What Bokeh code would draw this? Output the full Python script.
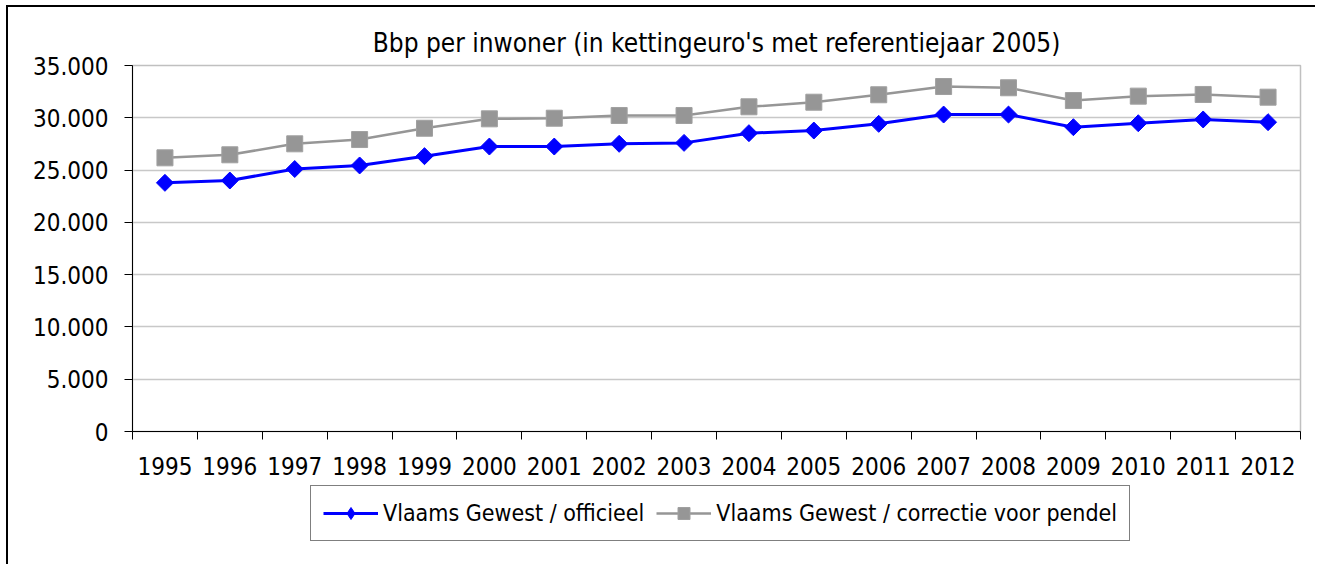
import numpy as np
from bokeh.plotting import figure
from bokeh.layouts import column
from bokeh.models import Range1d, FixedTicker, Legend, LegendItem
from bokeh.embed import file_html
from bokeh.resources import INLINE

years = ["1995", "1996", "1997", "1998", "1999", "2000", "2001", "2002", "2003",
         "2004", "2005", "2006", "2007", "2008", "2009", "2010", "2011", "2012"]
officieel = [23780, 24000, 25100, 25440, 26330, 27250, 27250, 27510, 27600,
             28530, 28780, 29420, 30310, 30310, 29100, 29480, 29840, 29580]
pendel = [26170, 26460, 27510, 27920, 29000, 29900, 29960, 30220, 30220,
          31050, 31490, 32200, 32990, 32870, 31650, 32070, 32230, 31970]
y_ticks = [0, 5000, 10000, 15000, 20000, 25000, 30000, 35000]
y_tick_labels = ["0", "5.000", "10.000", "15.000", "20.000", "25.000", "30.000", "35.000"]
title_text = "Bbp per inwoner (in kettingeuro's met referentiejaar 2005)"
series_names = ["Vlaams Gewest / officieel", "Vlaams Gewest / correctie voor pendel"]

FONT = "DejaVu Sans Condensed"
BLUE = "#0000ff"
GREY = "#969696"
n = len(years)
xc = [i + 0.5 for i in range(n)]

# ---------------- main chart ----------------
p = figure(width=1315, height=484, output_backend="svg", toolbar_location=None,
           x_range=Range1d(0, n), y_range=Range1d(0, 35000),
           min_border_left=132, min_border_right=15, min_border_top=65,
           min_border_bottom=53, background_fill_color="white",
           border_fill_color=None)

p.title.text = title_text
p.title.align = "center"
p.title.text_font = FONT
p.title.text_font_size = "26px"
p.title.text_font_style = "normal"
p.title.text_color = "black"
p.title.standoff = 16

p.outline_line_color = "#c0c0c0"
p.outline_line_width = 1.5

# x axis: labels centred on categories, ticks on category boundaries
p.xaxis.ticker = FixedTicker(ticks=xc, minor_ticks=list(range(n + 1)))
p.xaxis.major_label_overrides = {x: y for x, y in zip(xc, years)}
p.xaxis.major_tick_out = 0
p.xaxis.major_tick_in = 0
p.xaxis.minor_tick_out = 8
p.xaxis.minor_tick_in = 0
p.xaxis.minor_tick_line_color = "black"
p.xaxis.axis_line_color = "black"
p.xaxis.major_label_text_font = FONT
p.xaxis.major_label_text_font_size = "24px"
p.xaxis.major_label_text_color = "black"
p.xaxis.major_label_standoff = 17
p.xgrid.grid_line_color = None

# y axis
p.yaxis.ticker = FixedTicker(ticks=y_ticks, minor_ticks=[])
p.yaxis.major_label_overrides = {t: l for t, l in zip(y_ticks, y_tick_labels)}
p.yaxis.major_tick_out = 8
p.yaxis.major_tick_in = 0
p.yaxis.minor_tick_out = 0
p.yaxis.minor_tick_in = 0
p.yaxis.axis_line_color = "black"
p.yaxis.major_tick_line_color = "black"
p.yaxis.major_label_text_font = FONT
p.yaxis.major_label_text_font_size = "24px"
p.yaxis.major_label_text_color = "black"
p.yaxis.major_label_standoff = 16
p.ygrid.grid_line_color = "#c8c8c8"
p.ygrid.grid_line_width = 1.5
p.ygrid.ticker = FixedTicker(ticks=y_ticks)

# series
p.line(xc, officieel, line_color=BLUE, line_width=3)
p.scatter(xc, officieel, marker="square", angle=np.pi / 4, size=12,
          fill_color=BLUE, line_color=BLUE)
p.line(xc, pendel, line_color=GREY, line_width=2.5)
p.scatter(xc, pendel, marker="square", size=16,
          fill_color=GREY, line_color="#a0a0a0")

# ---------------- legend strip ----------------
pl = figure(width=1315, height=80, output_backend="svg", toolbar_location=None,
            x_range=Range1d(0, 1), y_range=Range1d(0, 1),
            x_axis_type=None, y_axis_type=None,
            min_border=0, min_border_left=0, min_border_right=0,
            min_border_top=0, min_border_bottom=0,
            background_fill_color=None, border_fill_color=None)
pl.title = None
pl.outline_line_color = None
pl.grid.visible = False

nan = [float("nan")]
k1 = pl.line(nan, nan, line_color=BLUE, line_width=3)
m1 = pl.scatter(nan, nan, marker="diamond", size=16,
                fill_color=BLUE, line_color=BLUE)
k2 = pl.line(nan, nan, line_color=GREY, line_width=2.5)
m2 = pl.scatter(nan, nan, marker="square", size=16,
                fill_color=GREY, line_color="#a0a0a0")

legend = Legend(items=[LegendItem(label=series_names[0], renderers=[k1, m1]),
                       LegendItem(label=series_names[1], renderers=[k2, m2])],
                orientation="horizontal", location=(178, 23))
legend.label_text_font = FONT
legend.label_text_font_size = "23px"
legend.label_text_color = "black"
legend.border_line_color = "black"
legend.border_line_width = 1
legend.background_fill_color = "white"
legend.glyph_width = 55
legend.glyph_height = 30
legend.spacing = 12
legend.padding = 12
legend.margin = 0
legend.label_standoff = 5
pl.add_layout(legend)

layout = column(p, pl, spacing=0,
                styles={"box-shadow": "inset 6px 5px 0 0 white, inset 8px 7px 0 0 black"})

open("out.html", "w").write(file_html(layout, INLINE))
